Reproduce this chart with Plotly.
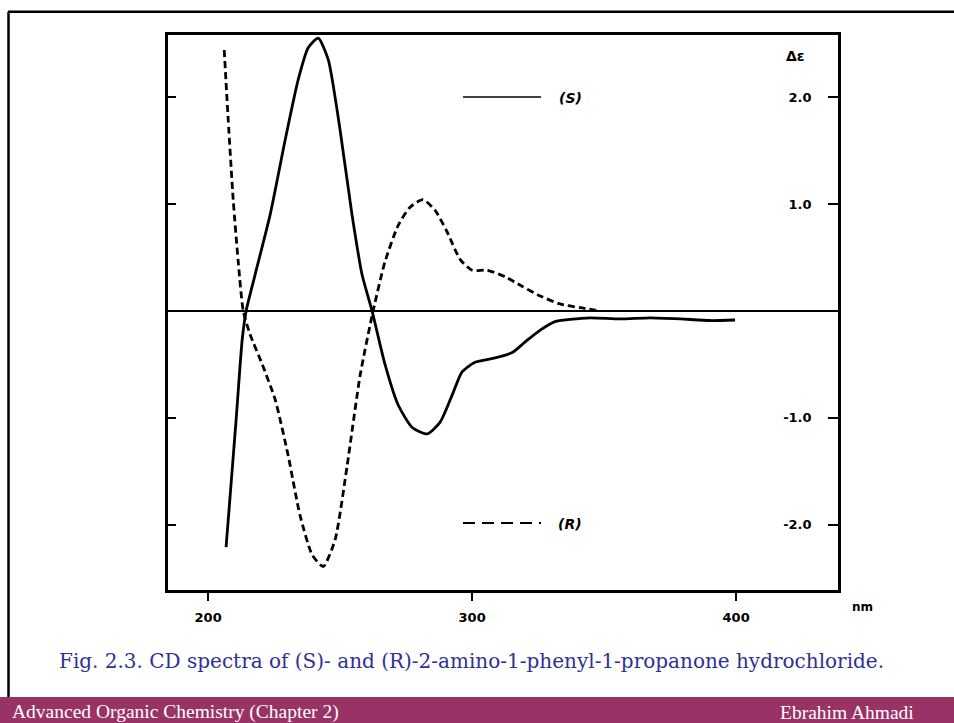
import plotly.graph_objects as go

# ---- data ----
s_nm = [206.8, 210.6, 212.9, 214.4, 217.8, 223.5, 229.2, 234.1, 237.9, 241.7,
        245.5, 250.0, 254.5, 258.3, 262.1, 267.0, 272.0, 277.3, 283.0, 287.9,
        292.4, 296.2, 301.1, 308.7, 315.2, 320.1, 325.8, 331.4, 337.1, 344.7,
        356.1, 367.4, 378.8, 390.2, 399.6]
s_de = [-2.21, -1.02, -0.27, 0.0, 0.34, 0.90, 1.60, 2.16, 2.46, 2.55,
        2.35, 1.69, 0.90, 0.34, 0.0, -0.50, -0.88, -1.09, -1.15, -1.04,
        -0.79, -0.57, -0.48, -0.44, -0.39, -0.29, -0.18, -0.10, -0.08, -0.065,
        -0.075, -0.065, -0.075, -0.09, -0.085]

r_nm = [206.1, 207.6, 209.5, 211.4, 213.3, 215.9, 220.5, 225.4, 230.3, 234.8,
        239.4, 243.6, 248.1, 252.7, 257.6, 262.5, 267.0, 272.0, 276.5, 281.4,
        286.0, 290.5, 295.5, 300.0, 305.7, 312.5, 318.9, 325.8, 333.3, 340.9,
        348.5]
r_de = [2.44, 1.79, 1.04, 0.46, 0.0, -0.22, -0.50, -0.83, -1.35, -1.91,
        -2.28, -2.39, -2.14, -1.44, -0.60, 0.0, 0.46, 0.80, 0.97, 1.04,
        0.94, 0.74, 0.48, 0.38, 0.38, 0.32, 0.23, 0.14, 0.065, 0.03,
        0.0]

x_ticks = [200, 300, 400]
x_tick_text = ["200", "300", "400"]
y_ticks = [-2, -1, 1, 2]
y_tick_text = ["-2.0", "-1.0", "1.0", "2.0"]

W, H = 954, 723
def px(x): return x / W
def py(y): return 1 - y / H

fig = go.Figure()
fig.add_trace(go.Scatter(x=s_nm, y=s_de, mode="lines",
                         line=dict(color="black", width=2.8, shape="spline", smoothing=0.6),
                         name="(S)", yaxis="y2", showlegend=False))
fig.add_trace(go.Scatter(x=r_nm, y=r_de, mode="lines",
                         line=dict(color="black", width=2.8, dash="7px,4px", shape="spline", smoothing=0.6),
                         name="(R)", showlegend=False))

tickfont = dict(family="DejaVu Sans", size=13, color="black", weight="bold")

fig.update_layout(
    width=W, height=H, margin=dict(l=0, r=0, t=0, b=0),
    paper_bgcolor="white", plot_bgcolor="white",
    xaxis=dict(domain=[px(168), px(838)], range=[184.8, 438.6], tickvals=x_ticks, ticktext=x_tick_text,
               ticks="outside", ticklen=8, tickwidth=2, tickcolor="black", tickfont=tickfont,
               ticklabelstandoff=5,
               showline=True, linewidth=3, linecolor="black", mirror=True, showgrid=False, zeroline=False),
    yaxis=dict(domain=[py(590), py(35)], range=[-2.61, 2.58], tickvals=y_ticks, ticks="inside", ticklen=8, tickwidth=2,
               tickcolor="black", showticklabels=False, showline=True, linewidth=3, linecolor="black",
               mirror=True, showgrid=False, zeroline=True, zerolinecolor="black", zerolinewidth=2),
    yaxis2=dict(overlaying="y", side="right", range=[-2.61, 2.58], tickvals=y_ticks, ticktext=y_tick_text,
                ticks="inside", ticklen=10, tickwidth=2, tickcolor="black", ticklabelposition="inside",
                ticklabelstandoff=16, tickfont=tickfont, showline=False, showgrid=False, zeroline=False),
    showlegend=False,
)

shapes = [
    # slide frame
    dict(type="line", xref="paper", yref="paper", x0=px(8), x1=1, y0=py(11.8), y1=py(11.8),
         line=dict(color="black", width=2.5)),
    dict(type="line", xref="paper", yref="paper", x0=px(8.5), x1=px(8.5), y0=py(11.8), y1=py(697),
         line=dict(color="black", width=2.5)),
    # footer bar
    dict(type="rect", xref="paper", yref="paper", x0=0, x1=1, y0=0, y1=py(697),
         fillcolor="#993366", line=dict(width=0), layer="below"),
    # in-plot legend samples
    dict(type="line", xref="paper", yref="paper", x0=px(463), x1=px(541), y0=py(97), y1=py(97),
         line=dict(color="black", width=1.5)),
    dict(type="line", xref="paper", yref="paper", x0=px(463), x1=px(541), y0=py(523), y1=py(523),
         line=dict(color="black", width=2.2, dash="12px,7px")),
]
fig.update_layout(shapes=shapes)

def note(text, x, y, font, xanchor="center"):
    return dict(text=text, x=px(x), y=py(y), xref="paper", yref="paper", showarrow=False,
                xanchor=xanchor, yanchor="middle", font=font)

ann = [
    note("<b><i>(S)</i></b>", 570, 98, dict(family="DejaVu Sans", size=14, color="black")),
    note("<b><i>(R)</i></b>", 570, 524, dict(family="DejaVu Sans", size=14, color="black")),
    note("<b>Δε</b>", 795, 56, dict(family="DejaVu Sans", size=14, color="black")),
    note("<b>nm</b>", 862, 607, dict(family="DejaVu Sans", size=12, color="black")),
    note("Fig. 2.3. CD spectra of (S)- and (R)-2-amino-1-phenyl-1-propanone hydrochloride.", 471, 661,
         dict(family="DejaVu Serif", size=20, color="#2E3192")),
    note("Advanced Organic Chemistry (Chapter 2)", 10, 712,
         dict(family="Liberation Serif", size=19.5, color="white"), xanchor="left"),
    note("Ebrahim Ahmadi", 916, 712,
         dict(family="Liberation Serif", size=19.5, color="white"), xanchor="right"),
]
fig.update_layout(annotations=ann)

fig.write_html("out.html", config={"displayModeBar": False},
               post_script="document.body.style.margin='0';document.body.style.overflow='hidden';")
